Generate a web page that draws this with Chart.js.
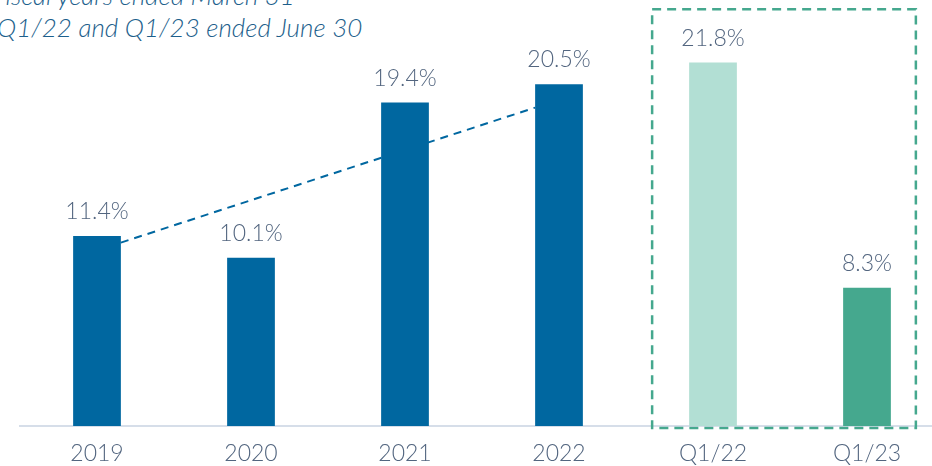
<!DOCTYPE html>
<html>
<head>
<meta charset="utf-8">
<script src="https://cdn.jsdelivr.net/npm/chart.js@4"></script>
<style>
  html, body { margin: 0; padding: 0; background: #fff; overflow: hidden; }
  body { width: 932px; height: 466px; position: relative; }
  .wrap { position: absolute; left: 0; top: 0; width: 960px; height: 466px; }
  .note {
    position: absolute; font-family: Lato, sans-serif; font-weight: 300;
    font-style: italic; font-size: 26px; line-height: 26px;
    color: #1d5f8c; white-space: nowrap;
  }
</style>
</head>
<body>
<div class="note" style="left:-8px; top:-18px;">Fiscal years ended March 31</div>
<div class="note" style="left:-3px; top:14px;">Q1/22 and Q1/23 ended June 30</div>
<div class="wrap"><canvas id="chart" width="960" height="466"></canvas></div>
<script>
const categories = ["2019", "2020", "2021", "2022", "Q1/22", "Q1/23"];
const values = [11.4, 10.1, 19.4, 20.5, 21.8, 8.3];
const barColors = ["#0067a0", "#0067a0", "#0067a0", "#0067a0", "#b2dfd4", "#45a88e"];
// dashed trend from the 2019 bar to the 2022 bar
const trendValues = [11.0, 19.1];

const textColor = "#52657f";

const valueLabels = {
  id: "valueLabels",
  afterDatasetsDraw(chart) {
    const ctx = chart.ctx;
    const meta = chart.getDatasetMeta(0);
    ctx.save();
    ctx.font = "300 23px Lato, sans-serif";
    ctx.fillStyle = textColor;
    ctx.textAlign = "center";
    ctx.textBaseline = "alphabetic";
    meta.data.forEach((bar, i) => {
      ctx.fillText(values[i].toFixed(1) + "%", bar.x, bar.y - 17);
    });
    ctx.restore();
  },
};

const extras = {
  id: "extras",
  beforeDatasetsDraw(chart) {
    const ctx = chart.ctx;
    const y = chart.scales.y;
    const bars = chart.getDatasetMeta(0).data;
    const a = bars[0], b = bars[3];

    ctx.save();
    ctx.strokeStyle = "#0067a0";
    ctx.lineWidth = 2;
    ctx.setLineDash([8, 6]);
    ctx.beginPath();
    ctx.moveTo(a.x + a.width / 2, y.getPixelForValue(trendValues[0]));
    ctx.lineTo(b.x - b.width / 2, y.getPixelForValue(trendValues[1]));
    ctx.stroke();
    ctx.restore();
  },
  afterDraw(chart) {
    const ctx = chart.ctx;
    const area = chart.chartArea;
    const bars = chart.getDatasetMeta(0).data;
    const q1 = bars[4], q2 = bars[5];
    const left = q1.x - q1.width / 2 - 37;
    const right = q2.x + q2.width / 2 + 25;

    ctx.save();
    ctx.strokeStyle = "#45a88e";
    ctx.lineWidth = 2.5;
    ctx.setLineDash([9, 6]);
    ctx.strokeRect(left, area.top, right - left, area.bottom + 2 - area.top);
    ctx.restore();
  },
};

new Chart(document.getElementById("chart"), {
  type: "bar",
  data: {
    labels: categories,
    datasets: [
      {
        data: values,
        backgroundColor: barColors,
        barPercentage: 0.31,
        categoryPercentage: 1,
      },
    ],
  },
  options: {
    responsive: false,
    animation: false,
    layout: { padding: { left: 20, right: 16, top: 9.25, bottom: 0 } },
    plugins: {
      legend: { display: false },
      tooltip: { enabled: false },
    },
    scales: {
      x: {
        grid: { display: false },
        border: { display: true, color: "#d6dee9", width: 2 },
        ticks: {
          color: textColor,
          font: { family: "Lato, sans-serif", size: 23, weight: 300 },
          padding: 6,
        },
        afterFit(scale) {
          scale.height = 40;
        },
      },
      y: {
        display: false,
        min: 0,
        max: 25,
      },
    },
  },
  plugins: [extras, valueLabels],
});
</script>
</body>
</html>
